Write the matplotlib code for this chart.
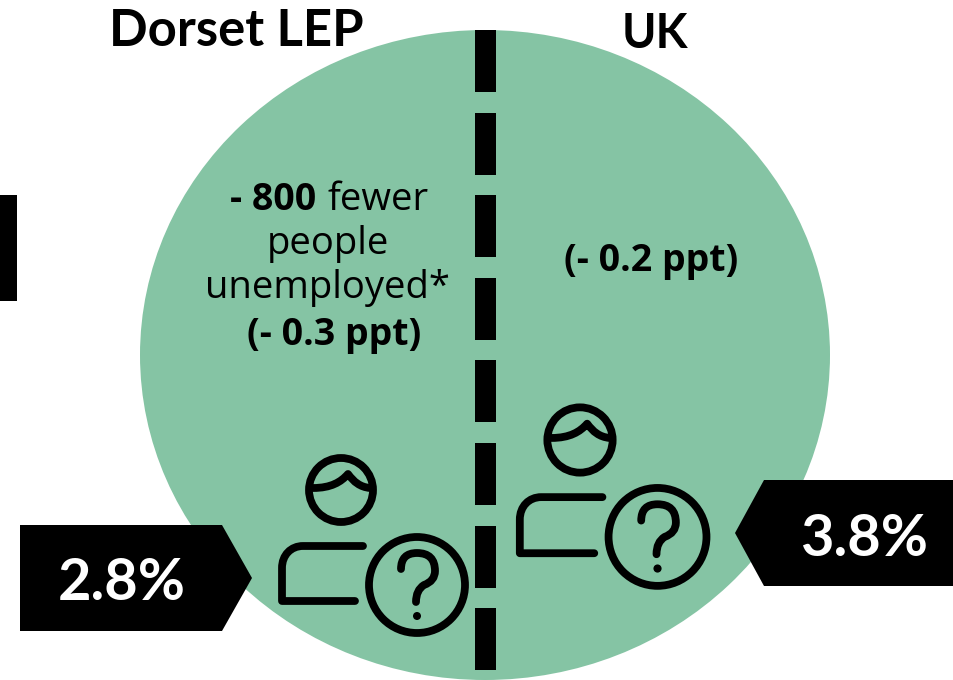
import matplotlib
matplotlib.use('Agg')
import matplotlib.pyplot as plt
from matplotlib.patches import Ellipse, Polygon, Rectangle, Circle, PathPatch
from matplotlib.path import Path

regions = ['Dorset LEP', 'UK']
rates = ['2.8%', '3.8%']
ppt_changes = ['(- 0.3 ppt)', '(- 0.2 ppt)']
fewer_count = '- 800'
fewer_lines = ['fewer', 'people', 'unemployed*']

GREEN = '#85c4a4'
FONT = 'Lato'
BODY_FONT = 'Open Sans'

plt.rcParams['font.family'] = [FONT, 'DejaVu Sans']

fig = plt.figure(figsize=(9.54, 6.8), dpi=100)
ax = fig.add_axes([0, 0, 1, 1])
ax.set_xlim(0, 954)
ax.set_ylim(680, 0)
ax.axis('off')

# background shape
ax.add_patch(Ellipse((485, 355), 690, 650, fc=GREEN, ec='none', zorder=1))

# dashed divider
for i in range(8):
    ax.add_patch(Rectangle((475.5, 30 + i * 82.6), 21, 62, fc='black', ec='none', zorder=2))

# stray bar on the left edge
ax.add_patch(Rectangle((0, 195), 17, 106, fc='black', ec='none', zorder=2))


def draw_person(cx, cy, s=1.0):
    # cx, cy is the centre of the head
    kw = dict(fc='none', ec='black', lw=5.6, capstyle='round', joinstyle='round', zorder=3)
    ax.add_patch(Circle((cx, cy), 32 * s, **kw))
    # hair
    verts = [(-28, -2), (-10, -2), (0, -8), (7, -16), (13, -8), (19, -3), (29, -2)]
    codes = [Path.MOVETO, Path.CURVE4, Path.CURVE4, Path.CURVE4, Path.CURVE4, Path.CURVE4, Path.CURVE4]
    ax.add_patch(PathPatch(Path([(cx + x * s, cy + y * s) for x, y in verts], codes), **kw))
    # shoulders
    verts = [(22, 56), (-38, 56), (-50, 56), (-59, 65), (-59, 78), (-59, 111), (14, 111)]
    codes = [Path.MOVETO, Path.LINETO, Path.CURVE4, Path.CURVE4, Path.CURVE4, Path.LINETO, Path.LINETO]
    ax.add_patch(PathPatch(Path([(cx + x * s, cy + y * s) for x, y in verts], codes), **kw))
    # question mark circle
    qx, qy = cx + 76 * s, cy + 95 * s
    ax.add_patch(Circle((qx, qy), 48 * s, **kw))
    verts = [(-16, -16), (-16, -32), (0, -32), (18, -32), (18, -14), (18, -4), (7, 0), (-1, 5), (-1, 17)]
    codes = [Path.MOVETO, Path.CURVE3, Path.CURVE3, Path.CURVE3, Path.CURVE3, Path.CURVE3, Path.CURVE3, Path.CURVE3, Path.CURVE3]
    ax.add_patch(PathPatch(Path([(qx + x * s, qy + y * s) for x, y in verts], codes), **kw))
    ax.add_patch(Circle((qx, qy + 31 * s), 4 * s, fc='black', ec='none', zorder=3))


draw_person(341, 490)
draw_person(580, 440, 1.02)

# callouts
ax.add_patch(Polygon([(20, 525), (222, 525), (252, 578), (222, 631), (20, 631)], fc='black', ec='none', zorder=4))
ax.add_patch(Polygon([(954, 480), (764, 480), (735, 533), (764, 586), (954, 586)], fc='black', ec='none', zorder=4))
ax.text(122, 583, rates[0], color='white', fontsize=41.5, fontweight='bold', ha='center', va='center', zorder=5)
ax.text(864, 539, rates[1], color='white', fontsize=41.5, fontweight='bold', ha='center', va='center', zorder=5)

# headings
ax.text(236, 32, regions[0], fontsize=36.5, fontweight='bold', ha='center', va='center', zorder=5)
ax.text(655, 34, regions[1], fontsize=33.5, fontweight='bold', ha='center', va='center', zorder=5)

# notes
ax.text(316, 200, fewer_count, family=BODY_FONT, fontsize=27, fontweight='bold', ha='right', va='center', zorder=5)
ax.text(328, 200, fewer_lines[0], family=BODY_FONT, fontsize=27.5, ha='left', va='center', zorder=5)
ax.text(328, 244, fewer_lines[1], family=BODY_FONT, fontsize=27.5, ha='center', va='center', zorder=5)
ax.text(328, 288, fewer_lines[2], family=BODY_FONT, fontsize=27.5, ha='center', va='center', zorder=5)
ax.text(334, 335, ppt_changes[0], family=BODY_FONT, fontsize=27, fontweight='bold', ha='center', va='center', zorder=5)
ax.text(651, 261, ppt_changes[1], family=BODY_FONT, fontsize=27, fontweight='bold', ha='center', va='center', zorder=5)

fig.savefig('out.png', dpi=100)
